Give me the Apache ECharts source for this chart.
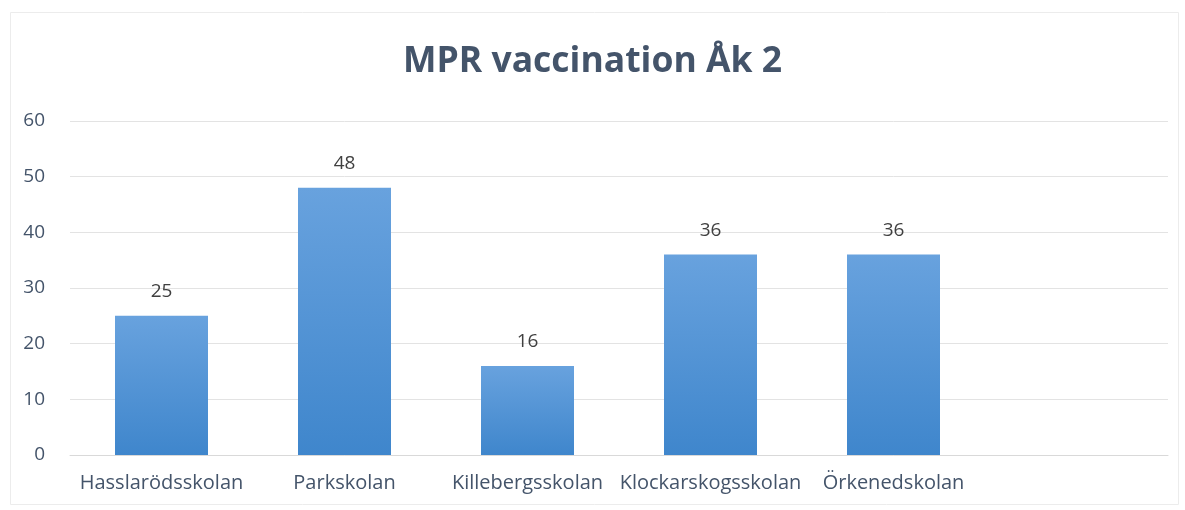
<!DOCTYPE html>
<html>
<head>
<meta charset="utf-8">
<script src="https://cdn.jsdelivr.net/npm/echarts@6/dist/echarts.min.js"></script>
<style>html,body{margin:0;padding:0;background:#fff;}#c{width:1185px;height:510px;}</style>
</head>
<body>
<div id="c"></div>
<script>
const categories = ['Hasslarödsskolan', 'Parkskolan', 'Killebergsskolan', 'Klockarskogsskolan', 'Örkenedskolan', ''];
const values = [25, 48, 16, 36, 36, null];
const yTicks = { min: 0, max: 60, interval: 10 };
const titleText = 'MPR vaccination Åk 2';

const chart = echarts.init(document.getElementById('c'), null, { renderer: 'canvas' });
const FONT = '"Open Sans", "Noto Sans", sans-serif';
chart.setOption({
  backgroundColor: '#ffffff',
  animation: false,
  graphic: [{
    type: 'rect', silent: true, z: -1,
    shape: { x: 10.5, y: 12.5, width: 1168, height: 492 },
    style: { fill: 'none', stroke: '#ececec', lineWidth: 1 }
  }],
  title: {
    text: titleText, left: 'center', top: 39,
    textStyle: { fontFamily: FONT, fontSize: 35.5, fontWeight: 'bold', color: '#44546a' }
  },
  grid: { left: 70, right: 17, top: 121, bottom: 55, containLabel: false },
  xAxis: {
    type: 'category', data: categories,
    axisLine: { show: true, lineStyle: { color: '#d9d9d9', width: 1 } },
    axisTick: { show: false },
    axisLabel: { fontFamily: FONT, fontSize: 20, color: '#44546a', margin: 18, interval: 0 }
  },
  yAxis: {
    type: 'value', min: yTicks.min, max: yTicks.max, interval: yTicks.interval,
    axisLine: { show: false }, axisTick: { show: false },
    splitLine: { lineStyle: { color: '#e3e3e3', width: 1 } },
    axisLabel: { fontFamily: FONT, fontSize: 19, color: '#44546a', margin: 25 }
  },
  series: [{
    type: 'bar', data: values, barWidth: 93,
    itemStyle: {
      color: new echarts.graphic.LinearGradient(0, 0, 0, 1, [
        { offset: 0, color: '#68a2de' },
        { offset: 1, color: '#3f86cc' }
      ])
    },
    label: { show: true, position: 'top', distance: 15, fontFamily: FONT, fontSize: 19, color: '#404040' }
  }]
});
</script>
</body>
</html>
